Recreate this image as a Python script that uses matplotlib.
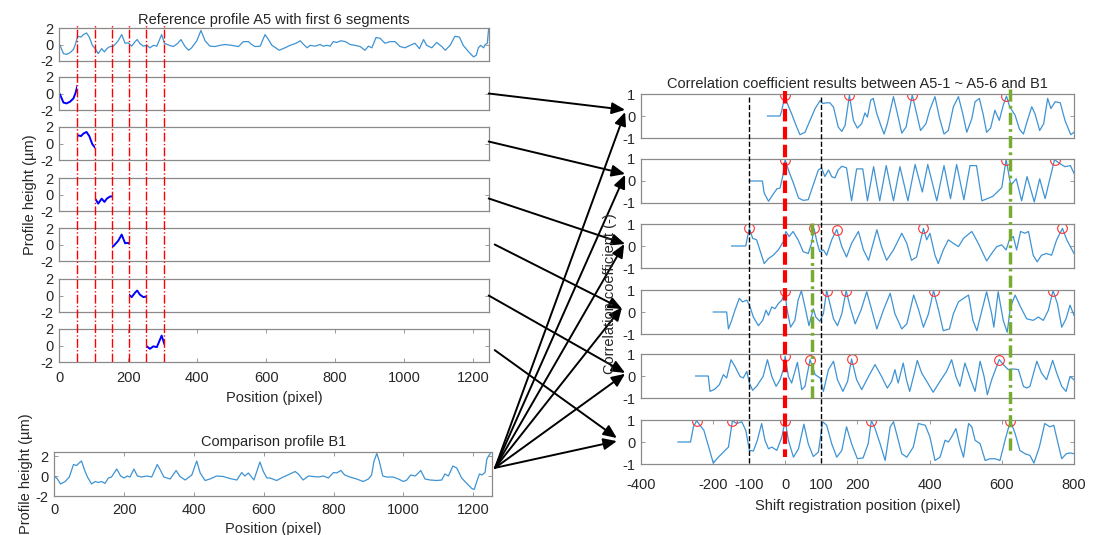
import numpy as np
import matplotlib.pyplot as plt
from matplotlib.patches import ConnectionPatch, Rectangle

plt.rcParams['font.family'] = ['Liberation Sans', 'DejaVu Sans']
plt.rcParams['font.size'] = 10.5
plt.rcParams['axes.unicode_minus'] = False

# reference profile A5 (position in pixel, height in um)
a5_x = [0, 2, 12, 21, 31, 41, 47, 53, 63, 70, 79, 87, 96, 104, 113, 123, 131, 138, 147, 157,
        171, 181, 191, 200, 210, 220, 226, 234, 244, 254, 263, 273, 283, 297, 305, 316, 331, 344,
        353, 365, 375, 384, 399, 411, 423, 437, 452, 466, 481, 500, 520, 534, 549, 558, 568, 583,
        597, 607, 617, 621, 638, 655, 670, 687, 699, 709, 719, 728, 742, 757, 766, 776, 786, 795,
        805, 817, 830, 844, 858, 873, 887, 897, 907, 919, 931, 945, 960, 974, 989, 1003, 1018,
        1032, 1045, 1057, 1066, 1081, 1095, 1110, 1120, 1134, 1148, 1161, 1172, 1187, 1202, 1210,
        1216, 1223, 1231, 1236, 1242, 1246]
a5_y = [0.0, -0.1, -1.1, -1.2, -1.0, -0.6, 0.05, 1.0, 0.9, 1.2, 1.4, 0.9, -0.1, -0.5, -1.1, -0.5,
        -0.9, -0.5, -0.25, -0.2, 0.45, 1.2, 0.15, 0.2, -0.2, 0.35, 0.6, 0.1, -0.2, -0.1, -0.4, -0.1,
        -0.2, 1.2, 0.15, -0.05, -0.25, 0.15, 0.6, -0.25, -0.7, -0.4, 0.45, 1.7, 0.45, -0.2, -0.25,
        -0.1, 0.0, -0.1, -0.25, 0.35, 0.35, 0.0, -0.25, -0.2, 1.2, 0.6, -0.1, -0.2, -0.7, -0.4,
        -0.1, 0.15, 0.45, 0.0, -0.4, -0.1, -0.2, 0.0, -0.2, -0.1, -0.2, 0.35, 0.25, 0.45, 0.35,
        0.0, -0.1, -0.25, -0.7, -0.2, -0.4, 0.85, 0.75, 0.15, 0.35, 0.35, -0.25, -0.4, -0.1, 0.15,
        -0.5, 0.6, -0.1, -0.4, 0.25, -0.25, -0.7, -0.1, 1.0, 0.9, -0.1, -0.85, -1.5, -1.3, -0.4,
        -0.1, -0.4, 0.0, 0.15, 2.0]
seg_edges = [0, 52, 103, 152, 201, 251, 304]

# comparison profile B1
b1_x = [0, 9, 18, 31, 43, 55, 64, 71, 78, 86, 95, 107, 117, 126, 136, 145, 155, 164, 179, 190,
        200, 209, 217, 228, 238, 250, 265, 279, 295, 303, 314, 332, 349, 360, 375, 394, 408, 418,
        432, 446, 465, 484, 503, 523, 537, 546, 556, 572, 589, 599, 609, 618, 637, 656, 675, 690,
        699, 713, 728, 742, 757, 771, 785, 800, 809, 821, 832, 847, 866, 885, 900, 909, 916, 924,
        931, 941, 952, 971, 986, 1000, 1010, 1021, 1034, 1050, 1062, 1077, 1096, 1110, 1119, 1129,
        1142, 1153, 1167, 1182, 1196, 1203, 1212, 1218, 1225, 1234, 1239, 1244, 1249]
b1_y = [0.0, -0.3, -0.8, -0.55, -0.1, 1.15, 1.05, 1.3, 1.5, 0.65, -0.1, -0.8, -0.55, -0.65, -0.55,
        -0.75, -0.2, -0.1, 0.7, 0.0, -0.2, 0.0, -0.1, 0.7, 0.0, -0.1, 0.0, -0.1, 1.15, 0.65, -0.1,
        -0.3, 0.55, -0.05, -0.4, 0.1, 1.5, 0.3, -0.45, -0.3, 0.0, -0.05, -0.25, -0.4, 0.35, 0.0,
        0.3, -0.4, 1.4, 0.45, -0.2, -0.2, -0.45, -0.1, 0.2, 0.45, 0.2, -0.4, 0.0, -0.05, -0.1, 0.0,
        -0.2, 0.35, 0.3, 0.55, 0.1, -0.1, -0.3, -0.55, -0.3, 0.1, 1.5, 2.25, 1.5, 0.0, -0.1, -0.1,
        -0.3, -0.55, -0.4, 0.1, 0.0, 0.55, -0.3, -0.4, -0.45, -0.4, 0.2, 0.0, 1.0, 0.8, -0.2, -0.75,
        -1.25, -1.35, -0.4, 0.2, 0.1, 0.35, 1.65, 2.0, 2.25]

# correlation coefficient vs shift, segments A5-1 .. A5-6
c1_x = [-49, -14, -10, 0, 6, 18, 32, 41, 55, 69, 83, 97, 104, 115, 124, 134, 147, 157, 166, 178,
        189, 200, 212, 221, 228, 237, 244, 254, 265, 274, 283, 300, 311, 323, 335, 352, 362, 375,
        390, 401, 415, 427, 440, 452, 466, 480, 492, 503, 517, 526, 538, 549, 558, 569, 581, 593,
        604, 613, 622, 637, 649, 660, 671, 683, 692, 705, 716, 727, 736, 748, 762, 775, 791, 800]
c1_y = [0, 0, 0.2, 0.97, 0.57, 0.1, -0.5, -0.85, -0.74, -0.2, 0.34, 0.7, 0.57, 0.6, 0.6, 0.4, -0.5,
        -0.7, -0.43, 0.95, -0.2, -0.55, -0.35, 0.14, -0.05, 0.72, 0.8, 0.1, -0.43, -0.82, -0.35,
        0.88, 0.1, -0.78, -0.5, 0.95, 0.26, -0.66, -0.35, 0.3, 0.88, -0.05, -0.82, -0.66, 0.42,
        0.88, 0.1, -0.74, -0.12, 0.65, 0.8, 0.03, -0.74, -0.55, 0.26, -0.2, 0.49, 0.9, 0.42, 0.03,
        -0.6, -0.82, -0.2, 0.42, 0.1, -0.66, -0.35, 0.8, 0.34, 0.65, 0.6, -0.2, -0.85, -0.74]
c2_x = [-99, -63, -58, -46, -34, -23, -14, -7, 0, 9, 23, 37, 50, 64, 78, 92, 101, 110, 120, 129,
        138, 147, 157, 170, 184, 198, 215, 228, 245, 262, 280, 300, 318, 340, 360, 380, 395, 420,
        440, 458, 475, 495, 512, 530, 545, 575, 600, 612, 625, 640, 655, 670, 690, 705, 720, 746,
        760, 775, 790, 800]
c2_y = [0, 0, -0.55, -0.92, -0.62, -0.36, -0.32, 0.2, 0.97, 0.5, -0.1, -0.77, -0.88, -0.85, -0.17,
        0.5, 0.6, 0.2, 0.5, 0.2, 0.14, 0.5, 0.67, 0.6, -0.9, 0.55, 0.55, -0.9, 0.65, -0.9, 0.7,
        -0.9, 0.65, -0.9, 0.75, -0.5, 0.75, -0.9, 0.7, -0.8, 0.75, -0.85, 0.7, 0.7, -0.9, -0.7,
        -0.3, 0.97, -0.2, 0.1, -0.9, 0.2, -0.95, 0.1, -0.8, 0.97, 0.8, 0.65, 0.7, 0.35]
c3_x = [-148, -109, -104, -99, -90, -79, -70, -58, -46, -33, -19, -5, 2, 11, 22, 36, 50, 64, 73,
        80, 89, 96, 106, 115, 129, 143, 157, 170, 184, 203, 217, 231, 254, 267, 281, 300, 323, 337,
        350, 364, 383, 392, 401, 415, 424, 438, 452, 466, 480, 494, 517, 535, 558, 572, 586, 600,
        612, 621, 632, 641, 652, 664, 674, 687, 698, 710, 724, 738, 752, 768, 780, 800]
c3_y = [0, 0, 0.43, 0.8, 0.35, 0.28, -0.18, -0.8, -0.57, -0.42, -0.18, 0.2, 0.66, 0.43, 0.66, 0.28,
        -0.26, -0.34, 0.12, 0.8, 0.12, -0.26, -0.18, -0.42, 0.28, 0.75, -0.03, -0.5, 0.12, 0.66,
        -0.18, -0.65, 0.74, -0.03, -0.65, -0.18, 0.58, 0.12, -0.65, -0.5, 0.8, 0.28, 0.58, -0.42,
        -0.8, -0.18, 0.28, 0.12, -0.03, 0.35, 0.66, 0.12, -0.68, -0.34, -0.03, 0.05, -0.18, 0.28,
        0.43, -0.18, 0.66, 0.58, 0.66, -0.42, -0.72, -0.42, -0.34, -0.42, 0.28, 0.8, 0.28, -0.34]
c4_x = [-199, -162, -157, -148, -139, -127, -118, -106, -97, -88, -74, -62, -53, -46, -37, -28,
        -19, -9, 0, 4, 15, 27, 36, 45, 55, 66, 78, 85, 96, 106, 115, 124, 134, 145, 157, 169, 180,
        194, 210, 226, 240, 254, 272, 291, 304, 323, 337, 356, 370, 383, 397, 411, 425, 438, 455,
        466, 480, 494, 508, 520, 531, 545, 558, 572, 578, 590, 604, 615, 624, 637, 652, 669, 687,
        701, 715, 729, 742, 754, 766, 778, 789, 800]
c4_y = [0, 0, -0.77, -0.38, 0.08, 0.62, 0.46, 0.54, 0.23, -0.23, -0.62, -0.38, 0.08, -0.15, 0.23,
        0.15, 0.38, 0.54, 0.97, 0.23, -0.69, -0.38, 0.54, 0.97, 0.23, -0.62, 0.15, -0.23, -0.42,
        -0.08, 0.97, 0.38, -0.31, -0.62, -0.08, 0.97, 0.23, -0.54, 0.08, 0.92, 0.08, -0.77, 0.08,
        0.85, -0.08, -0.77, -0.54, 0.77, 0.08, -0.69, -0.08, 0.97, 0.08, -0.85, -0.77, -0.08, 0.46,
        0.62, 0.77, -0.38, -0.85, 0.08, 0.92, -0.08, -0.69, 0.92, -0.38, -0.92, 0.23, 0.77, 0.23,
        -0.31, -0.38, -0.23, -0.38, 0.08, 0.97, 0.38, -0.69, -0.31, 0.31, -0.15]
c5_x = [-248, -213, -208, -194, -182, -171, -162, -150, -139, -125, -116, -106, -99, -90, -79, -61,
        -49, -37, -25, -14, -5, 0, 9, 18, 34, 46, 55, 69, 83, 97, 106, 120, 134, 145, 160, 173,
        184, 198, 212, 231, 249, 267, 283, 295, 304, 313, 327, 336, 345, 358, 366, 378, 392, 410,
        429, 447, 461, 473, 484, 498, 512, 526, 540, 551, 560, 572, 586, 593, 604, 618, 632, 646,
        660, 669, 678, 697, 710, 724, 741, 752, 766, 778, 789, 800]
c5_y = [0, 0, -0.7, -0.59, -0.39, 0.06, -0.09, 0.74, 0.44, -0.02, -0.09, 0.21, -0.32, -0.65, -0.47,
        -0.02, 0.74, -0.02, -0.47, -0.17, 0.29, 0.9, -0.02, -0.32, 0.62, -0.62, -0.47, 0.75, 0.06,
        -0.09, -0.7, 0.29, 0.67, -0.17, -0.7, -0.24, 0.77, -0.17, -0.62, -0.02, 0.52, -0.02, -0.55,
        -0.24, 0.29, -0.32, 0.59, -0.17, -0.7, 0.14, 0.71, 0.14, -0.24, -0.74, -0.24, 0.21, 0.74,
        -0.02, -0.47, 0.59, -0.09, -0.7, 0.67, -0.02, -0.85, -0.17, 0.44, 0.75, 0.52, 0.29, 0.32,
        0.29, -0.47, -0.55, -0.47, 0.67, 0.14, -0.17, 0.71, 0.14, -0.47, -0.7, -0.02, -0.17]
c6_x = [-297, -262, -254, -245, -236, -225, -213, -199, -185, -171, -157, -146, -134, -120, -109,
        -99, -88, -77, -65, -56, -46, -37, -23, -9, 0, 9, 23, 37, 52, 64, 78, 92, 104, 115, 129,
        143, 157, 170, 184, 200, 216, 230, 239, 249, 263, 277, 291, 300, 311, 323, 337, 355, 369,
        388, 401, 415, 429, 443, 452, 461, 473, 484, 494, 508, 517, 526, 540, 554, 568, 581, 595,
        609, 624, 637, 650, 664, 678, 689, 704, 719, 733, 744, 756, 766, 779, 789, 800]
c6_y = [0, 0, 0.69, 0.97, 0.76, 0.53, -0.15, -0.96, -0.69, -0.46, -0.23, 0.97, 0.84, 0.92, 0.53,
        -0.38, -0.41, 0.08, 0.84, 0.08, -0.31, -0.23, -0.38, 0.23, 0.97, 0.08, -0.69, -0.31, 0.81,
        -0.08, -0.66, -0.46, 0.92, 0.76, -0.08, -0.69, -0.38, 0.69, -0.08, -0.76, -0.72, -0.08,
        0.97, 0.61, -0.08, -0.84, 0.69, 0.92, 0.23, -0.53, -0.69, -0.23, 0.84, 0.76, 0.23, -0.84,
        -0.69, 0.08, 0.0, 0.23, 0.61, -0.15, -0.69, 0.84, 0.69, 0.08, -0.08, -0.84, -0.76, -0.76,
        -0.84, 0.08, 0.97, 0.38, -0.38, -0.53, -0.61, -0.96, -0.23, 0.84, 0.69, 0.76, -0.08, -0.76,
        -0.53, -0.5, -0.53]

# detected peaks (red circles)
pk1_x, pk1_y = [0, 178, 352, 613], [0.97, 0.95, 0.95, 0.9]
pk2_x, pk2_y = [0, 612, 746], [0.97, 0.97, 0.97]
pk3_x, pk3_y = [-99, 80, 143, 383, 768], [0.8, 0.8, 0.75, 0.8, 0.8]
pk4_x, pk4_y = [0, 115, 169, 411, 742], [0.97, 0.97, 0.97, 0.97, 0.97]
pk5_x, pk5_y = [0, 69, 184, 593], [0.9, 0.75, 0.77, 0.75]
pk6_x, pk6_y = [-245, -146, 0, 239, 624], [0.97, 0.97, 0.97, 0.97, 0.97]

window_lines = [-100, 100]
true_shift = 0
candidate_shifts = [74, 622]

W, H = 1099, 535
BLUE = '#3f93d3'
EDGE = '#8a8a8a'
TXT = '#262626'


def box(left, top, right, bottom):
    return [left / W, 1 - bottom / H, (right - left) / W, (bottom - top) / H]


def style(ax, show_x, xpad=6.5):
    for s in ax.spines.values():
        s.set_color(EDGE)
        s.set_linewidth(0.9)
    ax.tick_params(direction='in', top=True, right=True, length=3, width=0.6,
                   color=EDGE, labelcolor=TXT, labelsize=10.5, pad=4)
    ax.tick_params(axis='x', pad=xpad)
    if not show_x:
        ax.set_xticks([])


fig = plt.figure(figsize=(W / 100, H / 100), dpi=100)

# ---- left column: A5 and its segments
lx0, lx1 = 59.3, 488.7
left_tops = [28, 77, 127, 178, 228, 279, 329]
left_axes = []
for i, t in enumerate(left_tops):
    ax = fig.add_axes(box(lx0, t, lx1, t + 33))
    if i == 0:
        ax.plot(a5_x, a5_y, color=BLUE, lw=0.9)
        ax.set_title('Reference profile A5 with first 6 segments', fontsize=10.5, pad=3, color=TXT)
    else:
        ln, = ax.plot(a5_x, a5_y, color='#0000ff', lw=1.4)
        clip = Rectangle((seg_edges[i - 1], -5), seg_edges[i] - seg_edges[i - 1], 10,
                         transform=ax.transData)
        ln.set_clip_path(clip)
    ax.set_xlim(0, 1246)
    ax.set_ylim(-2, 2)
    ax.set_yticks([-2, 0, 2])
    style(ax, i == len(left_tops) - 1)
    left_axes.append(ax)
left_axes[-1].set_xticks([0, 200, 400, 600, 800, 1000, 1200])
left_axes[-1].set_xlabel('Position (pixel)', color=TXT, labelpad=4)
fig.text(30 / W, 1 - 195 / H, 'Profile height (µm)', rotation=90, ha='center', va='center',
         color=TXT, fontsize=10.5)

ov = fig.add_axes(box(lx0, 25, lx1, 362))
ov.set_xlim(0, 1246)
ov.set_ylim(0, 1)
ov.axis('off')
for e in seg_edges[1:]:
    ov.axvline(e, color='#ff0000', ls='-.', lw=1.0)

# ---- bottom left: B1
axb = fig.add_axes(box(54.3, 452, 492, 496))
axb.plot(b1_x, b1_y, color=BLUE, lw=0.9)
axb.set_xlim(0, 1254)
axb.set_ylim(-2, 2.4)
axb.set_yticks([-2, 0, 2])
axb.set_xticks([0, 200, 400, 600, 800, 1000, 1200])
style(axb, True, xpad=5)
axb.set_title('Comparison profile B1', fontsize=10.5, pad=4, color=TXT)
axb.set_xlabel('Position (pixel)', color=TXT, labelpad=4)
axb.set_ylabel('Profile height (µm)', color=TXT, labelpad=2)

# ---- right column: correlation results
rx0, rx1 = 640.7, 1074
right_tops = [94, 159, 224, 290, 354, 420]
curves = [(c1_x, c1_y, pk1_x, pk1_y), (c2_x, c2_y, pk2_x, pk2_y), (c3_x, c3_y, pk3_x, pk3_y),
          (c4_x, c4_y, pk4_x, pk4_y), (c5_x, c5_y, pk5_x, pk5_y), (c6_x, c6_y, pk6_x, pk6_y)]
right_axes = []
for i, (t, (cx, cy, px, py)) in enumerate(zip(right_tops, curves)):
    ax = fig.add_axes(box(rx0, t, rx1, t + 44))
    ax.plot(cx, cy, color=BLUE, lw=0.9)
    ax.plot(px, py, 'o', mfc='none', mec='#ff3030', ms=7, mew=0.8)
    ax.set_xlim(-400, 800)
    ax.set_ylim(-1, 1)
    ax.set_yticks([-1, 0, 1])
    style(ax, i == len(right_tops) - 1, xpad=10)
    right_axes.append(ax)
right_axes[0].set_title('Correlation coefficient results between A5-1 ~ A5-6 and B1',
                        fontsize=10.5, pad=4, color=TXT)
right_axes[-1].set_xticks([-400, -200, -100, 0, 100, 200, 400, 600, 800])
right_axes[-1].set_xlabel('Shift registration position (pixel)', color=TXT, labelpad=5)
fig.text(610 / W, 1 - 294 / H, 'Correlation coefficient (-)', rotation=90, ha='center',
         va='center', color=TXT, fontsize=10.5)

ovr = fig.add_axes(box(rx0, 85, rx1, 470))
ovr.set_xlim(-400, 800)
ovr.set_ylim(470, 85)
ovr.axis('off')
ovr.vlines(window_lines, 97, 464, colors='k', linestyles='--', lw=1.0)
ovr.vlines(true_shift, 91, 457, colors='#ff0000', linestyles=(0, (3, 1.3)), lw=3)
ovr.vlines(candidate_shifts[1], 89, 454, colors='#77ac30', linestyles=(0, (3.5, 1.2, 0.8, 1.2)), lw=2.5)
ovr.vlines(candidate_shifts[0], 223, 401, colors='#77ac30', linestyles=(0, (3.5, 1.2, 0.8, 1.2)), lw=2.5)

# ---- arrows: segments -> results, B1 -> results
seg_start = [(1.0, 0.5), (1.0, 0.56), (1.0, 0.38), (1.014, 0.5), (1.0, 0.5), (1.014, 0.36)]
seg_end = [(-0.036, 0.64), (-0.036, 0.66), (-0.036, 0.545), (-0.043, 0.57), (-0.036, 0.57),
           (-0.055, 0.59)]
b1_end = [(-0.036, 0.59), (-0.036, 0.64), (-0.038, 0.545), (-0.043, 0.61), (-0.036, 0.55),
          (-0.055, 0.52)]
astyle = dict(arrowstyle='-|>,head_length=0.8,head_width=0.35', mutation_scale=10, lw=1.4,
              color='k')
for k in range(6):
    con = ConnectionPatch(xyA=seg_start[k], coordsA=left_axes[k + 1].transAxes,
                          xyB=seg_end[k], coordsB=right_axes[k].transAxes, **astyle)
    fig.add_artist(con)
    con = ConnectionPatch(xyA=(1.007, 0.64), coordsA=axb.transAxes,
                          xyB=b1_end[k], coordsB=right_axes[k].transAxes, **astyle)
    fig.add_artist(con)

fig.savefig('out.png', dpi=100)
